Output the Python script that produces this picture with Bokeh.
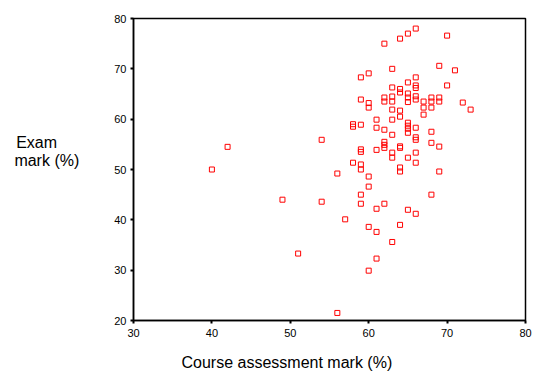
from bokeh.plotting import figure
from bokeh.models import Range1d, ColumnDataSource, Title
from bokeh.embed import file_html
from bokeh.resources import INLINE

course = [40, 42, 49, 51, 54, 54, 56, 56, 57,
          58, 58, 58,
          59, 59, 59, 59, 59, 59, 59, 59, 59,
          60, 60, 60, 60, 60, 60, 60,
          61, 61, 61, 61, 61, 61,
          62, 62, 62, 62, 62, 62, 62, 62,
          63, 63, 63, 63, 63, 63, 63, 63, 63, 63,
          64, 64, 64, 64, 64, 64, 64, 64, 64, 64,
          65, 65, 65, 65, 65, 65, 65, 65, 65, 65, 65,
          66, 66, 66, 66, 66, 66, 66, 66, 66, 66, 66, 66,
          67, 67, 67,
          68, 68, 68, 68, 68, 68,
          69, 69, 69, 69, 69,
          70, 70, 71, 72, 73]
exam = [50.0, 54.5, 44.0, 33.3, 55.9, 43.6, 49.2, 21.5, 40.1,
        59.0, 58.5, 51.35,
        68.3, 63.9, 58.9, 54.0, 53.5, 51.0, 50.0, 45.0, 43.2,
        69.1, 63.2, 62.3, 48.6, 46.6, 38.6, 29.9,
        59.9, 58.3, 53.9, 42.2, 37.6, 32.3,
        75.0, 64.3, 63.5, 57.9, 55.5, 54.9, 54.3, 43.2,
        70.0, 66.3, 64.5, 63.5, 61.9, 59.9, 56.9, 53.35, 52.35, 35.6,
        76.0, 66.0, 65.3, 61.7, 60.5, 54.6, 54.3, 50.4, 49.6, 39.0,
        77.0, 67.3, 65.1, 64.3, 63.4, 59.3, 58.7, 58.1, 57.3, 52.35, 42.0,
        78.0, 68.3, 66.7, 66.2, 64.55, 63.9, 58.3, 56.4, 55.9, 53.35, 51.35, 41.2,
        63.5, 62.3, 60.9,
        64.3, 63.5, 62.3, 57.5, 55.3, 45.0,
        70.6, 64.3, 63.5, 54.55, 49.6,
        76.6, 66.7, 69.7, 63.3, 61.9]

x_ticks = [30, 40, 50, 60, 70, 80]
y_ticks = [20, 30, 40, 50, 60, 70, 80]
x_title = "Course assessment mark (%)"
y_title_lines = ["Exam", "mark (%)"]

# left-align the two title lines (the axis label block is right-aligned)
NBSP = "\u00a0"
y_title = (y_title_lines[0] + NBSP * 5 + "\n" + y_title_lines[1] + "\n \n ")

src = ColumnDataSource(data=dict(x=course, y=exam))

p = figure(width=537, height=383, output_backend="svg", toolbar_location=None,
           x_range=Range1d(30, 80), y_range=Range1d(20, 80),
           min_border_left=133, min_border_right=12, min_border_top=18,
           min_border_bottom=63)
p.background_fill_color = "white"
p.border_fill_color = "white"
p.outline_line_color = "black"
p.outline_line_width = 1.5
p.grid.visible = False

for ax in (p.xaxis, p.yaxis):
    ax.axis_line_color = "black"
    ax.axis_line_width = 1.5
    ax.major_tick_in = 0
    ax.major_tick_out = 3
    ax.major_tick_line_width = 2
    ax.major_tick_line_color = "black"
    ax.minor_tick_line_color = None
    ax.major_label_text_font = "Liberation Sans"
    ax.major_label_text_font_size = "11px"
    ax.major_label_text_color = "black"
p.xaxis.ticker = x_ticks
p.yaxis.ticker = y_ticks
p.xaxis.major_label_standoff = 5
p.yaxis.major_label_standoff = 4

p.scatter("x", "y", source=src, marker="square", size=5, fill_color=None,
          line_color="#ff0000", line_width=1)

p.add_layout(Title(text=x_title, align="left", offset=48,
                   text_font="Liberation Sans", text_font_size="16px",
                   text_font_style="normal", text_color="black",
                   standoff=24), "below")

ya = p.yaxis[0]
ya.axis_label = y_title
ya.axis_label_text_font = "Liberation Sans"
ya.axis_label_text_font_size = "16px"
ya.axis_label_text_font_style = "normal"
ya.axis_label_text_color = "black"
ya.axis_label_text_line_height = 1.05
ya.axis_label_text_align = "right"
ya.axis_label_standoff = 32
ya.axis_label_orientation = "horizontal"

open("out.html", "w").write(file_html(p, INLINE))
